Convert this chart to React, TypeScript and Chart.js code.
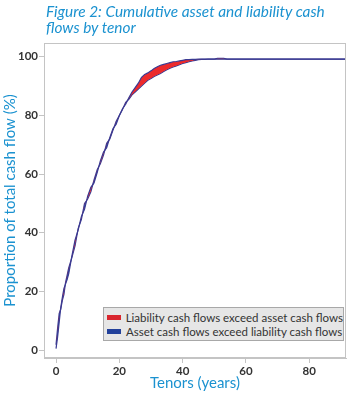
import React, { useEffect, useRef } from "react";
import { Chart, registerables } from "chart.js";

Chart.register(...registerables);

const titleLines = ["Figure 2: Cumulative asset and liability cash", "flows by tenor"];
const xAxisTitle = "Tenors (years)";
const yAxisTitle = "Proportion of total cash flow (%)";
const legendLabels = [
  "Liability cash flows exceed asset cash flows",
  "Asset cash flows exceed liability cash flows",
];
const xTicks = [0, 20, 40, 60, 80];
const yTicks = [0, 20, 40, 60, 80, 100];

const tenors = [
  0, 0.5, 1, 1.5, 2, 2.5, 3, 3.5, 4, 5, 6, 7, 8, 9, 10, 11, 12, 13, 14, 15, 16, 17, 18, 19, 20,
  21, 22, 23, 24, 25, 26, 27, 28, 29, 30, 31, 32, 33, 34, 35, 36, 37, 38, 39, 40, 41, 42, 43, 44,
  45, 46, 47, 48, 50, 51, 53, 54, 56, 60, 70, 80, 92,
];
const liabilityCum = [
  0.5, 4.5, 9.5, 14.5, 18, 21, 22.5, 24, 26, 32, 37.5, 41, 45.5, 48, 52.5, 55.5, 57, 60.5, 64.5,
  67.5, 69, 72.5, 75.5, 77, 80, 82.3, 83.8, 86, 88, 89.5, 91, 93, 94, 94.5, 95.2, 96, 96.6, 97.1,
  97.4, 97.7, 98, 98.3, 98.4, 98.6, 98.8, 99, 99, 99.1, 99.1, 99.2, 99.2, 99.2, 99.2, 99.2, 99.5,
  99.5, 99.2, 99.2, 99.2, 99.2, 99.2, 99.2,
];
const assetCum = [
  1.8, 7.5, 12.5, 14, 17, 19, 23, 25.5, 28, 31.5, 35.5, 41.5, 44.5, 50, 51.5, 54, 58, 61.5, 63.5,
  66.5, 70.5, 72, 75, 78, 80, 82, 84.5, 85.5, 87, 88, 89, 90, 91, 92, 92.6, 93.3, 93.8, 94.3, 95,
  95.6, 96.1, 96.5, 96.9, 97.3, 97.7, 98, 98.3, 98.6, 98.8, 99, 99.1, 99.15, 99.2, 99.2, 99.2,
  99.2, 99.2, 99.2, 99.2, 99.2, 99.2, 99.2,
];

const RED = "#ec2a2c";
const BLUE = "#2a419c";
const LINE = "#3a3a92";
const AXIS_BLUE = "#1b92d0";
const GREY = "#c4c4c4";

const framePlugin = {
  id: "frame",
  afterDatasetsDraw(chart: any) {
    const { ctx, chartArea } = chart;
    ctx.save();
    ctx.strokeStyle = GREY;
    ctx.lineWidth = 1;
    ctx.strokeRect(
      Math.round(chartArea.left) + 0.5,
      Math.round(chartArea.top) + 0.5,
      Math.round(chartArea.right - chartArea.left) - 1,
      Math.round(chartArea.bottom - chartArea.top) - 1
    );
    ctx.restore();
  },
};

export default function App() {
  const ref = useRef<HTMLCanvasElement>(null);

  useEffect(() => {
    if (!ref.current) return;
    const toPts = (arr: number[]) => tenors.map((t, i) => ({ x: t, y: arr[i] }));
    const chart = new Chart(ref.current, {
      type: "line",
      data: {
        datasets: [
          {
            label: legendLabels[0],
            data: toPts(liabilityCum),
            borderColor: LINE,
            borderWidth: 1.2,
            pointRadius: 0,
            tension: 0,
            fill: { target: 1, above: RED, below: BLUE },
          },
          {
            label: legendLabels[1],
            data: toPts(assetCum),
            borderColor: LINE,
            borderWidth: 1.2,
            pointRadius: 0,
            tension: 0,
            fill: false,
          },
        ],
      },
      options: {
        animation: false,
        responsive: true,
        maintainAspectRatio: false,
        layout: { padding: { top: 43, right: 10, left: 0, bottom: 0 } },
        plugins: {
          legend: { display: false },
          tooltip: { enabled: false },
          title: { display: false },
        },
        scales: {
          x: {
            type: "linear",
            min: -3.8,
            max: 91.6,
            afterBuildTicks: (s: any) => {
              s.ticks = xTicks.map((v) => ({ value: v }));
            },
            afterFit: (s: any) => {
              s.height = 37;
            },
            grid: { display: true, drawOnChartArea: false, drawTicks: true, tickLength: 5, color: GREY },
            border: { display: true, color: GREY },
            ticks: {
              padding: 1,
              color: "#333",
              font: { family: "Lato", size: 11.5, weight: "bold" },
            },
            title: {
              display: true,
              text: xAxisTitle,
              color: AXIS_BLUE,
              font: { family: "Lato", size: 15 },
              padding: { top: 0, bottom: 3 },
            },
          },
          y: {
            type: "linear",
            min: -2.7,
            max: 104.7,
            afterBuildTicks: (s: any) => {
              s.ticks = yTicks.map((v) => ({ value: v }));
            },
            afterFit: (s: any) => {
              s.width = 44;
            },
            grid: { display: true, drawOnChartArea: false, drawTicks: true, tickLength: 5, color: GREY },
            border: { display: true, color: GREY },
            ticks: {
              padding: 1,
              color: "#333",
              font: { family: "Lato", size: 11.5, weight: "bold" },
            },
            title: {
              display: true,
              text: yAxisTitle,
              color: AXIS_BLUE,
              font: { family: "Lato", size: 15 },
              padding: { top: 1, bottom: 0 },
            },
          },
        },
      },
      plugins: [framePlugin],
    });
    return () => chart.destroy();
  }, []);

  return (
    <div style={{ position: "absolute", left: 0, top: 0, width: 356, height: 395, background: "#fff" }}>
      <canvas ref={ref} width={356} height={395} />
      <div
        style={{
          position: "absolute",
          left: 46,
          top: 3,
          color: AXIS_BLUE,
          fontFamily: "Lato",
          fontStyle: "italic",
          fontSize: 15.4,
          lineHeight: "16px",
          whiteSpace: "nowrap",
        }}
      >
        {titleLines.map((l, i) => (
          <div key={i}>{l}</div>
        ))}
      </div>
      <div
        style={{
          position: "absolute",
          left: 103,
          top: 307,
          width: 241,
          height: 34,
          boxSizing: "border-box",
          background: "#e6e6e6",
          border: "1px solid #a8a8a8",
          fontFamily: "Lato",
          fontSize: 11.5,
          color: "#333",
          padding: "2px 0 0 3px",
        }}
      >
        {legendLabels.map((l, i) => (
          <div key={i} style={{ display: "flex", alignItems: "center", height: 14 }}>
            <span
              style={{
                display: "inline-block",
                width: 14,
                height: 5,
                background: i === 0 ? "#d9262e" : "#22409a",
                marginRight: 5,
              }}
            />
            <span style={{ whiteSpace: "nowrap" }}>{l}</span>
          </div>
        ))}
      </div>
    </div>
  );
}
